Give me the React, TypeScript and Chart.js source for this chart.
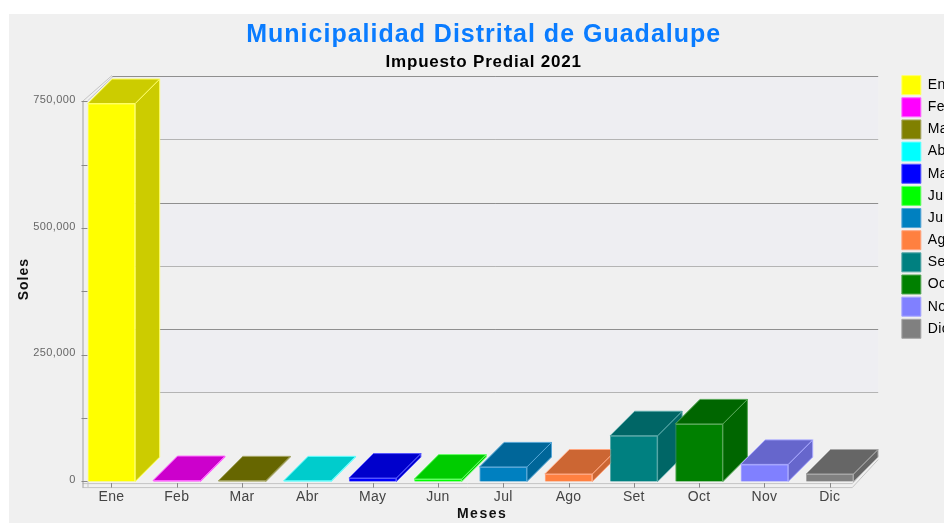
import React, { useEffect, useRef } from "react";
import { Chart, registerables } from "chart.js";

Chart.register(...registerables);

const TITLE = "Municipalidad Distrital de Guadalupe";
const SUBTITLE = "Impuesto Predial 2021";
const Y_TITLE = "Soles";
const X_TITLE = "Meses";
const months = ["Ene", "Feb", "Mar", "Abr", "May", "Jun", "Jul", "Ago", "Set", "Oct", "Nov", "Dic"];
const values = [747000, 2000, 1500, 1500, 7000, 5000, 29000, 15000, 90500, 114000, 34000, 15000];
const frontColors = ["#ffff00", "#ff00ff", "#808000", "#00ffff", "#0000ff", "#00ff00", "#0080c0", "#ff8040", "#008080", "#008000", "#8080ff", "#808080"];
const shadeColors = ["#cccc00", "#cc00cc", "#666600", "#00cccc", "#0000cc", "#00cc00", "#006699", "#cc6633", "#006666", "#006600", "#6666cc", "#666666"];
const edgeColors = ["#ffff66", "#ff66ff", "#a6a666", "#66ffff", "#5555ff", "#66ff66", "#55a6d6", "#ffa680", "#55a6a6", "#55a655", "#a6a6ff", "#a6a6a6"];
const yTicks = [0, 125000, 250000, 375000, 500000, 625000, 750000];
const yLabelled = [0, 250000, 500000, 750000];

const DX = 24.5;
const DY = 24.5;
const GRID_DY = 25.5;

function spaced(obj: any, method: string, ctx: any, spacing: string, shiftX = 0) {
  const original = obj[method];
  obj[method] = function (...args: any[]) {
    ctx.save();
    ctx.letterSpacing = spacing;
    ctx.translate(shiftX, 0);
    original.apply(this, args);
    ctx.restore();
  };
}

const threeD = {
  id: "threeD",
  afterLayout(chart: any) {
    const { ctx } = chart;
    const legend = chart.legend;
    const w = legend.width;
    const h = legend.height;
    legend.left = 889.7;
    legend.right = legend.left + w;
    legend.top = 58.5;
    legend.bottom = legend.top + h;
    if (chart.$spaced) return;
    chart.$spaced = true;
    chart.boxes.forEach((box: any) => {
      if (box.options?.text === TITLE) spaced(box, "draw", ctx, "1px", 15.2);
      if (box.options?.text === SUBTITLE) spaced(box, "draw", ctx, "0.8px", 15.2);
    });
    spaced(legend, "draw", ctx, "0.3px");
    spaced(chart.scales.x, "drawTitle", ctx, "1.5px", 11.5);
    spaced(chart.scales.y, "drawTitle", ctx, "1px");
    spaced(chart.scales.x, "drawLabels", ctx, "0.3px");
    spaced(chart.scales.y, "drawLabels", ctx, "0.4px");
  },
  beforeDatasetsDraw(chart: any) {
    const { ctx, scales } = chart;
    const y = scales.y;
    const x0 = 73.5;
    const x1 = 843.7;
    const yBase = y.getPixelForValue(0);
    const yTop = y.getPixelForValue(750000);
    const floorY = yBase + 5.5;
    const wallLeft = x0 + DX + 5;
    const wallRight = x1 + DX + 1;
    ctx.save();
    // alternating bands of the back wall
    ctx.fillStyle = "#eeeef2";
    for (let i = yTicks.length - 1; i >= 2; i -= 2) {
      const a = y.getPixelForValue(yTicks[i]) - GRID_DY;
      const b = y.getPixelForValue(yTicks[i - 1]) - GRID_DY;
      ctx.fillRect(wallLeft, a, wallRight - wallLeft, b - a);
    }
    // grid lines on the back wall
    ctx.lineWidth = 1;
    yTicks.forEach((v, i) => {
      if (v === 0) return;
      const py = Math.round(y.getPixelForValue(v) - GRID_DY - 0.5) + 0.5;
      ctx.strokeStyle = i % 2 === 0 ? "#8f8f8f" : "#b4b4b4";
      ctx.beginPath();
      ctx.moveTo(wallLeft, py);
      ctx.lineTo(wallRight, py);
      ctx.stroke();
    });
    // floor and left wall edges
    ctx.strokeStyle = "#c4c4c4";
    ctx.beginPath();
    ctx.moveTo(x0 + 0.5, yTop - 1);
    ctx.lineTo(wallLeft, yTop - GRID_DY - 1);
    ctx.moveTo(x0 + 5, yTop - 1);
    ctx.lineTo(wallLeft + 1, yTop - GRID_DY);
    ctx.moveTo(x1, floorY);
    ctx.lineTo(wallRight, floorY - DY - 3);
    ctx.moveTo(x1, floorY - 4);
    ctx.lineTo(wallRight, floorY - DY - 7);
    ctx.moveTo(x0, floorY - 4 + 0.5);
    ctx.lineTo(x1, floorY - 4 + 0.5);
    ctx.moveTo(x0, floorY + 0.5);
    ctx.lineTo(x1, floorY + 0.5);
    ctx.moveTo(x0 + 5.5, yBase);
    ctx.lineTo(x0 + 5.5, floorY);
    ctx.stroke();
    ctx.strokeStyle = "#a0a0a0";
    ctx.beginPath();
    ctx.moveTo(x0 + 0.5, yTop - 1);
    ctx.lineTo(x0 + 0.5, floorY + 0.5);
    ctx.stroke();
    // tick marks
    ctx.strokeStyle = "#888888";
    yTicks.forEach((v) => {
      const py = Math.round(y.getPixelForValue(v) - 0.5) + 0.5;
      ctx.beginPath();
      ctx.moveTo(x0 - 1, py);
      ctx.lineTo(x0 + 5, py);
      ctx.stroke();
    });
    const meta = chart.getDatasetMeta(0);
    meta.data.forEach((bar: any) => {
      const px = Math.round(bar.x) + 0.5;
      ctx.beginPath();
      ctx.moveTo(px, floorY - 4);
      ctx.lineTo(px, floorY + 0.5);
      ctx.stroke();
    });
    ctx.restore();
  },
  afterDatasetsDraw(chart: any) {
    const { ctx } = chart;
    const meta = chart.getDatasetMeta(0);
    meta.data.forEach((bar: any, i: number) => {
      const left = bar.x - bar.width / 2;
      const right = bar.x + bar.width / 2;
      const top = bar.y;
      const base = bar.base;
      ctx.save();
      ctx.fillStyle = shadeColors[i];
      ctx.strokeStyle = edgeColors[i];
      ctx.lineWidth = 1;
      ctx.beginPath();
      ctx.moveTo(right, base);
      ctx.lineTo(right + DX, base - DY);
      ctx.lineTo(right + DX, top - DY);
      ctx.lineTo(right, top);
      ctx.closePath();
      ctx.fill();
      ctx.stroke();
      ctx.beginPath();
      ctx.moveTo(left, top);
      ctx.lineTo(left + DX, top - DY);
      ctx.lineTo(right + DX, top - DY);
      ctx.lineTo(right, top);
      ctx.closePath();
      ctx.fill();
      ctx.stroke();
      ctx.restore();
      bar.draw(ctx);
    });
  },
};

export default function App() {
  const ref = useRef<HTMLCanvasElement>(null);
  useEffect(() => {
    if (!ref.current) return;
    const chart = new Chart(ref.current, {
      type: "bar",
      plugins: [threeD],
      data: {
        labels: months,
        datasets: [
          {
            label: SUBTITLE,
            data: values,
            backgroundColor: frontColors,
            borderColor: edgeColors,
            borderWidth: 1,
            barPercentage: 0.727,
            categoryPercentage: 1,
          },
        ],
      },
      options: {
        responsive: false,
        animation: false,
        layout: { padding: { left: 0, right: 29, top: 0, bottom: 0 } },
        plugins: {
          title: {
            display: true,
            text: TITLE,
            color: "#0a7cff",
            font: { family: "Liberation Sans", size: 25, weight: "bold", lineHeight: 1.15 },
            padding: { top: 7, bottom: 1 },
          },
          subtitle: {
            display: true,
            text: SUBTITLE,
            color: "#000000",
            font: { family: "Liberation Sans", size: 17, weight: "bold", lineHeight: 1.13 },
            padding: { top: 1.6, bottom: 5.1 },
          },
          tooltip: { enabled: false },
          legend: {
            position: "right",
            align: "start",
            labels: {
              boxWidth: 19,
              boxHeight: 19,
              padding: 3.15,
              color: "#555555",
              font: { family: "Liberation Sans", size: 14 },
              generateLabels: () =>
                months.map((m, i) => ({
                  text: m,
                  fillStyle: frontColors[i],
                  strokeStyle: edgeColors[i],
                  lineWidth: 1,
                  hidden: false,
                  index: i,
                  datasetIndex: 0,
                })),
            },
          },
        },
        scales: {
          x: {
            afterFit: (axis: any) => {
              axis.height = 41.4;
            },
            grid: { display: false, drawTicks: false },
            border: { display: false },
            ticks: { color: "#444444", font: { family: "Liberation Sans", size: 14 }, padding: 7, maxRotation: 0 },
            title: {
              display: true,
              text: X_TITLE,
              color: "#111111",
              font: { family: "Liberation Sans", size: 14, weight: "bold" },
              padding: { top: 0, bottom: 0 },
            },
          },
          y: {
            min: 0,
            max: 800000,
            afterFit: (axis: any) => {
              axis.width = 69.8;
            },
            grid: { display: false, drawTicks: false },
            border: { display: false },
            afterBuildTicks: (axis: any) => {
              axis.ticks = yTicks.map((value) => ({ value }));
            },
            ticks: {
              color: "#666666",
              font: { family: "Liberation Sans", size: 11 },
              padding: 3,
              labelOffset: -2,
              callback: (v: any) => (yLabelled.includes(Number(v)) ? Number(v).toLocaleString("en-US") : ""),
            },
            title: {
              display: true,
              text: Y_TITLE,
              color: "#111111",
              font: { family: "Liberation Sans", size: 14, weight: "bold" },
              padding: { top: 6.5, bottom: 0 },
            },
          },
        },
      },
    } as any);
    return () => chart.destroy();
  }, []);
  return (
    <div
      style={{
        position: "fixed",
        left: 9,
        top: 14,
        width: 935,
        height: 509,
        overflow: "hidden",
        background: "#f0f0f0",
      }}
    >
      <canvas ref={ref} width={948} height={509} style={{ display: "block", width: 948, height: 509 }} />
    </div>
  );
}
